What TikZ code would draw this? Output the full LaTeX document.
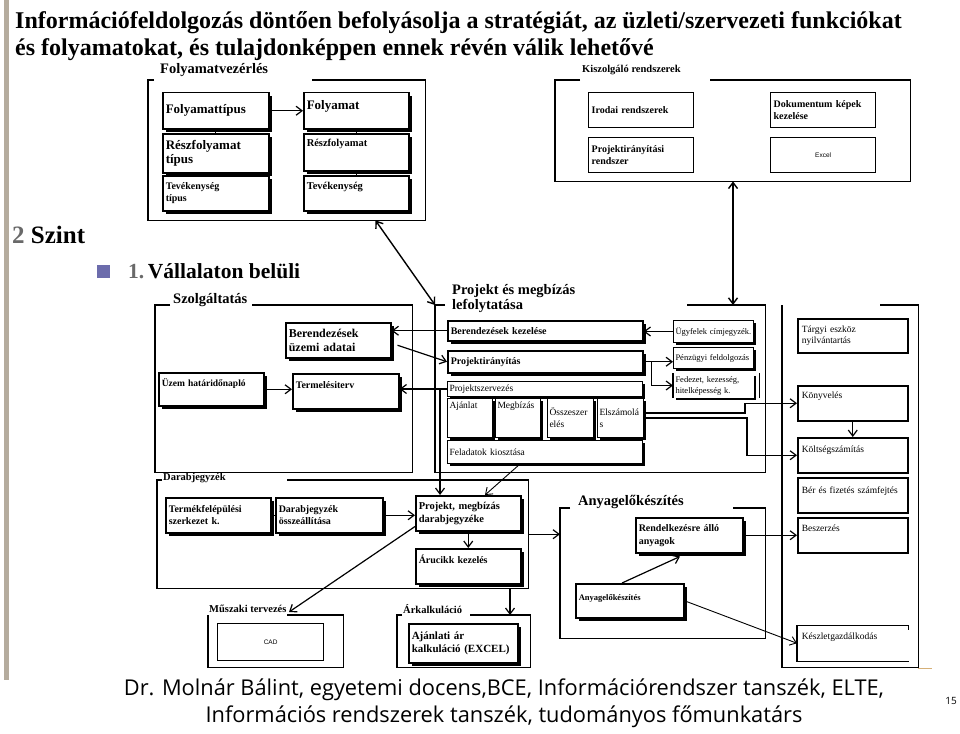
\documentclass[tikz,border=0pt]{standalone}
\usepackage{fontspec}
\setmainfont{Liberation Serif}
\setsansfont{Liberation Sans}
\newfontfamily\footfont{Open Sans}
\usetikzlibrary{positioning,arrows.meta,calc,shadows}
\definecolor{barcol}{RGB}{181,172,158}
\definecolor{numgray}{RGB}{105,105,105}
\definecolor{bullet}{RGB}{108,108,172}
\definecolor{accent}{RGB}{214,176,120}
\tikzset{
	diagram/.style={x=1pt,y=-1pt,>={Straight Barb[length=6pt,width=9pt]},line join=miter},
	grp/.style={rectangle,inner sep=0pt,anchor=north west},
	grpframe/.style={line width=1.6pt},
	grplabel/.style={anchor=west,inner sep=0pt,font=\bfseries\fontsize{14.5}{15}\selectfont},
	smalllabel/.style={grplabel,font=\bfseries\fontsize{10.5}{12}\selectfont},
	shadowbox/.style={draw,line width=1.5pt,fill=white,anchor=north west,inner sep=3pt,align=left,
		drop shadow={shadow xshift=3pt,shadow yshift=-3pt,fill=black,opacity=1},
		font=\bfseries\fontsize{13}{14}\selectfont},
	midtext/.style={font=\bfseries\fontsize{10}{12}\selectfont},
	sysbox/.style={draw,line width=1.3pt,fill=white,anchor=north west,inner sep=3pt,align=left,
		font=\bfseries\fontsize{10}{12}\selectfont},
	smallbox/.style={draw,line width=1pt,fill=white,anchor=north west,inner sep=2pt,align=left,
		drop shadow={shadow xshift=2pt,shadow yshift=-2pt,fill=black,opacity=1},
		font=\fontsize{9.5}{12}\selectfont},
	accbox/.style={draw,line width=1.5pt,anchor=north west,inner sep=4pt,align=left,
		font=\fontsize{9.5}{11}\selectfont},
	topbox/.style 2 args={text height=#1,text depth=#2},
	link/.style={->,line width=1.2pt},
	twoway/.style={<->,line width=1.4pt},
	tie/.style={line width=0.6pt}
}

\begin{document}
\begin{tikzpicture}[diagram]
	\path[use as bounding box,fill=white] (0,0) rectangle (960,733);
	\fill[barcol] (4,0) rectangle (9,680);
	
	% headings
	\node[anchor=north west,align=left,inner sep=0pt,font=\bfseries\fontsize{24}{27}\selectfont] (title) at (15,11)
		{Információfeldolgozás döntően befolyásolja a stratégiát, az üzleti/szervezeti funkciókat\\
		 és folyamatokat, és tulajdonképpen ennek révén válik lehetővé};
	\node[anchor=west,inner sep=0pt,font=\bfseries\fontsize{25}{27}\selectfont] (level) at (12,235) {\textcolor{numgray}{2} Szint};
	\node[fill=bullet,minimum size=13pt,inner sep=0pt,anchor=north west] (bul) at (97,265) {};
	\node[anchor=west,inner sep=0pt,font=\bfseries\fontsize{21.5}{24}\selectfont] (within) at (128,271) {\textcolor{numgray}{1.}\,Vállalaton belüli};
	
	% Folyamatvezerles
	\node[grp,minimum width=277pt,minimum height=140pt] (fv) at (148,80) {};
	\draw[grpframe] ($(fv.north west)+(6,0)$) -- (fv.north west) -- (fv.south west) -- (fv.south east) -- (fv.north east) -- ($(fv.north west)+(164,0)$);
	\node[grplabel] (fvl) at (160,70) {Folyamatvezérlés};
	\node[shadowbox,text width=100pt,minimum height=36pt] (ft) at (162,92) {Folyamattípus};
	\node[shadowbox,text width=100pt,minimum height=39pt] (rft) at (162,133) {Részfolyamat\\típus};
	\node[shadowbox,midtext,text width=100pt,minimum height=35pt] (tt) at (162,175) {Tevékenység\\típus};
	\node[shadowbox,text width=99pt,minimum height=36pt,topbox={14pt}{16pt}] (fo) at (303,92) {Folyamat};
	\node[shadowbox,font=\bfseries\fontsize{10.5}{12}\selectfont,text width=99pt,minimum height=37pt,topbox={10pt}{21pt}] (rf) at (303,133) {Részfolyamat};
	\node[shadowbox,font=\bfseries\fontsize{10.5}{12}\selectfont,text width=99pt,minimum height=35pt,topbox={11pt}{18pt}] (te) at (303,175) {Tevékenység};
	\draw[tie] (ft.south) -- (rft.north);
	\draw[tie] (rft.south) -- (tt.north);
	\draw[tie] (fo.south) -- (rf.north);
	\draw[tie] (rf.south) -- (te.north);
	\draw[link] (ft.east) -- (fo.west);
	
	% Kiszolgalo rendszerek
	\node[grp,minimum width=355pt,minimum height=101pt] (ks) at (555,80) {};
	\draw[grpframe] ($(ks.north west)+(25,0)$) -- (ks.north west) -- (ks.south west) -- (ks.south east) -- (ks.north east) -- ($(ks.north west)+(155,0)$);
	\node[smalllabel] (ksl) at (582,70) {Kiszolgáló rendszerek};
	\node[sysbox,text width=99pt,minimum height=35pt] (ir) at (588,92) {Irodai rendszerek};
	\node[sysbox,text width=99pt,minimum height=35pt] (pr) at (588,137) {Projektirányítási\\rendszer};
	\node[sysbox,text width=99pt,minimum height=35pt] (dk) at (770,92) {Dokumentum képek\\kezelése};
	\node[sysbox,text width=99pt,minimum height=35pt,align=center,font=\sffamily\fontsize{6.5}{8}\selectfont] (ex) at (770,137) {Excel};
	
	% Szolgaltatas
	\node[grp,minimum width=257pt,minimum height=167pt] (sz) at (155,305) {};
	\draw[grpframe] ($(sz.north west)+(15,0)$) -- (sz.north west) -- (sz.south west) -- (sz.south east) -- (sz.north east) -- ($(sz.north west)+(97,0)$);
	\node[grplabel] (szl) at (173,300) {Szolgáltatás};
	\node[shadowbox,text width=99pt,minimum height=35pt,font=\bfseries\fontsize{12}{14}\selectfont] (bua) at (285,322) {Berendezések\\üzemi adatai};
	\node[shadowbox,font=\bfseries\fontsize{9.5}{11}\selectfont,text width=99pt,minimum height=33pt,topbox={11pt}{16pt}] (uh) at (158,372) {Üzem határidőnapló};
	\node[shadowbox,midtext,text width=100pt,minimum height=35pt,topbox={12pt}{17pt}] (tv) at (292,373) {Termelésiterv};
	\draw[link] (uh.east) -- (uh.east -| tv.west);
	
	% Projekt es megbizas lefolytatasa
	\node[grp,minimum width=330pt,minimum height=167pt] (pm) at (435,305) {};
	\draw[grpframe] ($(pm.north west)+(10,0)$) -- (pm.north west) -- (pm.south west) -- (pm.south east) -- (pm.north east) -- ($(pm.north west)+(252,0)$);
	\node[grplabel,anchor=north west,align=left] (pml) at (452,284) {Projekt és megbízás\\lefolytatása};
	\node[shadowbox,text width=189pt,minimum height=20pt,font=\bfseries\fontsize{10}{11}\selectfont] (bk) at (447,320) {Berendezések kezelése};
	\node[shadowbox,text width=189pt,minimum height=22pt,font=\bfseries\fontsize{10}{11}\selectfont] (pi) at (447,350) {Projektirányítás};
	\node[smallbox,text width=191pt,minimum height=15pt] (ps) at (447,381) {Projektszervezés};
	\node[smallbox,text width=41pt,minimum height=39pt,topbox={8pt}{27pt}] (aj) at (447,398) {Ajánlat};
	\node[smallbox,text width=41pt,minimum height=39pt,topbox={8pt}{27pt}] (mb) at (495,398) {Megbízás};
	\node[smallbox,text width=42pt,minimum height=39pt] (os) at (547,398) {Összeszer\\elés};
	\node[smallbox,text width=42pt,minimum height=39pt] (el) at (597,398) {Elszámolá\\s};
	\node[smallbox,text width=191pt,minimum height=23pt] (fk) at (447,440) {Feladatok kiosztása};
	\node[smallbox,font=\fontsize{8.5}{10}\selectfont,text width=76pt,minimum height=22pt] (uc) at (673,320) {Ügyfelek címjegyzék.};
	\node[smallbox,font=\fontsize{8.5}{10}\selectfont,text width=76pt,minimum height=21pt] (pe) at (673,347) {Pénzügyi feldolgozás};
	\node[smallbox,font=\fontsize{8.5}{11}\selectfont,draw=none,drop shadow={opacity=0},text width=76pt,minimum height=24pt] (fd) at (673,373) {Fedezet, kezesség,\\hitelképesség k.};
	\draw[line width=1.5pt] (fd.north west) -- (fd.south west);
	\draw[tie] ($(fd.north east)+(5,0)$) -- ($(fd.south east)+(5,0)$);
	\draw[link] (uc.west) -- (uc.west -| bk.east);
	\draw[link] (pi.east) -- (pi.east -| pe.west);
	\draw[link] (pi.east) -- ++(8,0) |- (fd.west);
	\draw[link] (bk.west) -- (bk.west -| bua.east);
	\draw[link] ($(bua.east)+(6,5)$) -- (pi.west);
	\draw[link] (ps.west) -- (ps.west -| tv.east);
	
	% konyveles oszlop
	\node[grp,minimum width=136pt,minimum height=362pt] (rc) at (782,305) {};
	\draw[grpframe] ($(rc.north east)+(-38,0)$) -- (rc.north east) -- (rc.south east) -- (rc.south west) -- (rc.north west);
	\node[accbox,text width=102pt,minimum height=34pt] (tn) at (797,318) {Tárgyi eszköz\\nyilvántartás};
	\node[accbox,text width=102pt,minimum height=35pt,topbox={9pt}{18pt}] (kv) at (797,385) {Könyvelés};
	\node[accbox,text width=102pt,minimum height=35pt,topbox={11pt}{16pt}] (ksz) at (797,437) {Költségszámítás};
	\node[accbox,text width=102pt,minimum height=35pt,topbox={12pt}{15pt}] (ber) at (797,477) {Bér és fizetés számfejtés};
	\node[accbox,text width=102pt,minimum height=35pt,topbox={10pt}{17pt}] (bsz) at (797,517) {Beszerzés};
	\node[accbox,draw=none,text width=102pt,minimum height=35pt,topbox={10pt}{17pt}] (kg) at (797,625) {Készletgazdálkodás};
	\draw[line width=1.5pt] (kg.north west) -- (kg.south west);
	\draw[line width=1pt] (kg.north west) -- (kg.north east) -- ++(0,5);
	\draw[line width=1pt] (kg.south west) -- (kg.south east);
	\draw[link] (kv.south) -- (ksz.north);
	\draw[link] ($(el.east)+(0,-5)$) -| ($(kv.west)+(-52,0)$) -- (kv.west);
	\draw[link] (el.east) -| ($(ksz.west)+(-50,0)$) -- (ksz.west);
	
	% Darabjegyzek
	\node[grp,minimum width=371pt,minimum height=108pt] (dj) at (157,480) {};
	\draw[grpframe] ($(dj.north west)+(5,0)$) -- (dj.north west) -- (dj.south west) -- (dj.south east) -- (dj.north east) -- ($(dj.north west)+(130,0)$);
	\node[smalllabel] (djl) at (163,478) {Darabjegyzék};
	\node[shadowbox,midtext,text width=99pt,minimum height=35pt] (tfs) at (165,497) {Termékfelépülési\\szerkezet k.};
	\node[shadowbox,midtext,text width=101pt,minimum height=35pt] (djo) at (275,497) {Darabjegyzék\\összeállítása};
	\node[shadowbox,font=\bfseries\fontsize{10.5}{13}\selectfont,text width=99pt,minimum height=35pt] (pmd) at (415,495) {Projekt, megbízás\\darabjegyzéke};
	\node[shadowbox,midtext,text width=99pt,minimum height=35pt,topbox={12pt}{17pt}] (ak) at (415,548) {Árucikk kezelés};
	\draw[tie] (tfs.east) -- (djo.west);
	\draw[link] (djo.east) -- (djo.east -| pmd.west);
	\draw[link] (pmd.south) -- (ak.north);
	\draw[link] (ps.west) -| ($(pmd.north west)+(25,0)$);
	\draw[link,line width=0.9pt] ($(fk.south west)+(73,0)$) -- ($(pmd.north west)+(70,0)$);
	
	% Muszaki terveles, Arkalkulacio
	\node[grp,minimum width=135pt,minimum height=52pt] (mt) at (208,615) {};
	\draw[grpframe] ($(mt.north west)+(79,0)$) -- (mt.north east) -- (mt.south east) -- (mt.south west) -- (mt.north west);
	\node[smalllabel] (mtl) at (209,609) {Műszaki tervezés};
	\node[sysbox,text width=100pt,minimum height=37pt,align=center,font=\sffamily\fontsize{6.5}{8}\selectfont] (cad) at (217,623) {CAD};
	\node[grp,minimum width=133pt,minimum height=52pt] (ark) at (397,615) {};
	\draw[grpframe] ($(ark.north west)+(5,0)$) -- (ark.north west) -- (ark.south west) -- (ark.south east) -- (ark.north east) -- ($(ark.north west)+(73,0)$);
	\node[smalllabel] (arkl) at (403,609) {Árkalkuláció};
	\node[shadowbox,text width=103pt,minimum height=39pt,font=\bfseries\fontsize{11}{13}\selectfont] (aa) at (408,623) {Ajánlati ár\\kalkuláció (EXCEL)};
	\draw[link] ($(pmd.south west)+(0,-5)$) -- ($(mt.north west)+(81,-3)$);
	\draw[link] ($(dj.south west)+(353,0)$) -- ($(ark.north west)+(113,0)$);
	
	% Anyagelokeszites
	\node[grp,minimum width=205pt,minimum height=130pt] (an) at (560,508) {};
	\draw[grpframe] ($(an.north west)+(10,0)$) -- (an.north west) -- (an.south west) -- (an.south east) -- (an.north east) -- ($(an.north west)+(173,0)$);
	\node[grplabel] (anl) at (578,502) {Anyagelőkészítés};
	\node[shadowbox,text width=101pt,minimum height=35pt,font=\bfseries\fontsize{10}{13}\selectfont] (ra) at (635,517) {Rendelkezésre álló\\anyagok};
	\node[shadowbox,text width=102pt,minimum height=34pt,topbox={14pt}{14pt},font=\bfseries\fontsize{8.5}{12}\selectfont] (ae) at (575,583) {Anyagelőkészítés};
	\draw[link] (dj.east) -- (dj.east -| an.west);
	\draw[link] ($(ae.north west)+(47,0)$) -- ($(ra.south west)+(45,3)$);
	\draw[link] (ra.east) -- (ra.east -| bsz.west);
	\draw[link,line width=0.9pt] (ae.east) -- (kg.west);
	
	% kapcsolatok a csoportok kozott
	\draw[twoway] ($(fv.south west)!0.82!(fv.south east)$) -- (pm.north west);
	\draw[twoway] ($(ks.south west)+(178,0)$) -- ($(pm.north west)+(298,0)$);
	
	% labjegyzet
	\node[align=center,inner sep=0pt,font=\footfont\fontsize{21.8}{27}\selectfont] (foot) at (504,703)
		{Dr. Molnár Bálint, egyetemi docens,BCE, Információrendszer tanszék, ELTE,\\
		 Információs rendszerek tanszék, tudományos főmunkatárs};
	\node[inner sep=0pt,font=\footfont\fontsize{10}{12}\selectfont] (page) at (951,701) {15};
	\draw[accent,line width=1.5pt] ($(rc.south east)+(0,1)$) -- ++(14,0);
\end{tikzpicture}
\end{document}
